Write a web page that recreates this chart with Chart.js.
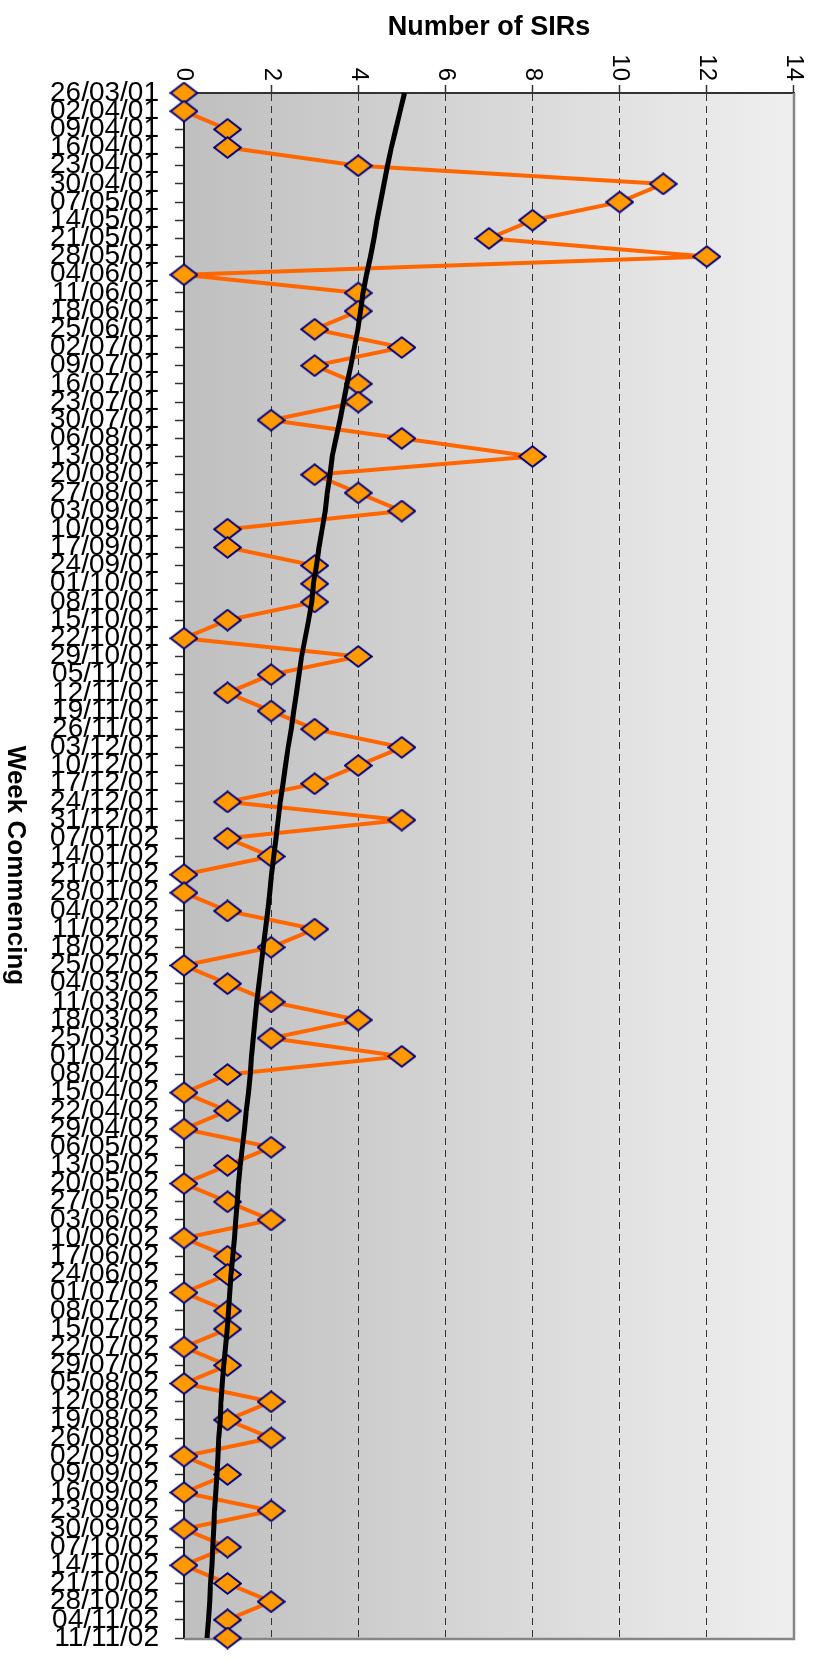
<!DOCTYPE html>
<html>
<head>
<meta charset="utf-8">
<script src="https://cdn.jsdelivr.net/npm/chart.js@4/dist/chart.umd.min.js"></script>
<style>
  html, body { margin: 0; padding: 0; background: #ffffff; overflow: hidden; }
  /* The chart is laid out landscape and turned a quarter clockwise onto the portrait page. */
  #wrap {
    position: absolute; left: 0; top: 0;
    width: 1668px; height: 816px;
    transform-origin: 0 0;
    transform: translateX(816px) rotate(90deg);
  }
</style>
</head>
<body>
<div id="wrap"><canvas id="c" width="1668" height="816"></canvas></div>
<script>
// Week commencing dates
const weeks = [
  '26/03/01','02/04/01','09/04/01','16/04/01','23/04/01','30/04/01','07/05/01','14/05/01','21/05/01','28/05/01',
  '04/06/01','11/06/01','18/06/01','25/06/01','02/07/01','09/07/01','16/07/01','23/07/01','30/07/01','06/08/01',
  '13/08/01','20/08/01','27/08/01','03/09/01','10/09/01','17/09/01','24/09/01','01/10/01','08/10/01','15/10/01',
  '22/10/01','29/10/01','05/11/01','12/11/01','19/11/01','26/11/01','03/12/01','10/12/01','17/12/01','24/12/01',
  '31/12/01','07/01/02','14/01/02','21/01/02','28/01/02','04/02/02','11/02/02','18/02/02','25/02/02','04/03/02',
  '11/03/02','18/03/02','25/03/02','01/04/02','08/04/02','15/04/02','22/04/02','29/04/02','06/05/02','13/05/02',
  '20/05/02','27/05/02','03/06/02','10/06/02','17/06/02','24/06/02','01/07/02','08/07/02','15/07/02','22/07/02',
  '29/07/02','05/08/02','12/08/02','19/08/02','26/08/02','02/09/02','09/09/02','16/09/02','23/09/02','30/09/02',
  '07/10/02','14/10/02','21/10/02','28/10/02','04/11/02','11/11/02'
];

// Number of SIRs raised each week
const sirCounts = [
  0,0,1,1,4,11,10,8,7,12,
  0,4,4,3,5,3,4,4,2,5,
  8,3,4,5,1,1,3,3,3,1,
  0,4,2,1,2,3,5,4,3,1,
  5,1,2,0,0,1,3,2,0,1,
  2,4,2,5,1,0,1,0,2,1,
  0,1,2,0,1,1,0,1,1,0,
  1,0,2,1,2,0,1,0,2,0,
  1,0,1,2,1,1
];

// Trend line values per week
const trendValues = [
  5.06,4.96,4.86,4.76,4.67,4.59,4.51,4.43,4.36,4.28,
  4.19,4.11,4.05,3.99,3.91,3.83,3.74,3.66,3.58,3.49,
  3.40,3.35,3.29,3.24,3.17,3.10,3.04,2.97,2.93,2.86,
  2.78,2.70,2.64,2.58,2.52,2.46,2.39,2.33,2.27,2.21,
  2.16,2.11,2.06,2.01,1.97,1.92,1.87,1.82,1.77,1.72,
  1.67,1.63,1.59,1.55,1.52,1.48,1.43,1.39,1.34,1.29,
  1.25,1.22,1.19,1.16,1.12,1.08,1.05,1.02,0.99,0.95,
  0.91,0.88,0.85,0.83,0.80,0.78,0.76,0.73,0.70,0.68,
  0.66,0.64,0.61,0.59,0.56,0.53
];

// Value axis tick labels
const valueTicks = [0, 2, 4, 6, 8, 10, 12, 14];

const FONT = '"Liberation Sans", Arial, Helvetica, sans-serif';

// Diamond marker: orange fill, navy outline
function makeDiamond(w, h) {
  const cv = document.createElement('canvas');
  cv.width = w; cv.height = h;
  const g = cv.getContext('2d');
  g.beginPath();
  g.moveTo(w / 2, 1.2);
  g.lineTo(w - 1.2, h / 2);
  g.lineTo(w / 2, h - 1.2);
  g.lineTo(1.2, h / 2);
  g.closePath();
  g.fillStyle = '#ff9900';
  g.fill();
  g.lineWidth = 2;
  g.strokeStyle = '#000080';
  g.lineJoin = 'miter';
  g.stroke();
  return cv;
}
const diamond = makeDiamond(23, 29);

// Grey gradient behind the plot, plus the light frame on the far sides
const plotBackdrop = {
  id: 'plotBackdrop',
  beforeDraw(chart) {
    const { ctx, chartArea: { left, right, top, bottom } } = chart;
    const g = ctx.createLinearGradient(0, bottom, 0, top);
    g.addColorStop(0, '#bfbfbf');
    g.addColorStop(1, '#efefef');
    ctx.save();
    ctx.fillStyle = g;
    ctx.fillRect(left, top, right - left, bottom - top);
    ctx.restore();
  },
  beforeDatasetsDraw(chart) {
    const { ctx, chartArea: { left, right, top, bottom } } = chart;
    ctx.save();
    ctx.strokeStyle = '#868686';
    ctx.lineWidth = 2.5;
    ctx.beginPath();
    ctx.moveTo(left, top);
    ctx.lineTo(right + 1, top);
    ctx.lineTo(right + 1, bottom);
    ctx.stroke();
    ctx.restore();
  }
};

new Chart(document.getElementById('c'), {
  type: 'line',
  data: {
    labels: weeks,
    datasets: [
      {
        label: 'Trend',
        data: trendValues,
        borderColor: '#000000',
        borderWidth: 5,
        pointRadius: 0,
        tension: 0,
        fill: false,
        order: 0
      },
      {
        label: 'SIRs',
        data: sirCounts,
        borderColor: '#ff6600',
        borderWidth: 4,
        borderJoinStyle: 'round',
        pointStyle: diamond,
        pointRadius: 12,
        tension: 0,
        fill: false,
        clip: false,
        order: 1
      }
    ]
  },
  options: {
    responsive: false,
    animation: false,
    devicePixelRatio: 1,
    layout: { padding: { top: 22, right: 30, left: 0, bottom: 0 } },
    plugins: { legend: { display: false }, tooltip: { enabled: false } },
    scales: {
      x: {
        type: 'category',
        offset: false,
        afterFit(scale) {
          scale.height = 184;
          scale.paddingLeft = 0;
          scale.paddingRight = 0;
        },
        grid: {
          drawOnChartArea: false,
          drawTicks: true,
          tickLength: 9,
          tickColor: '#333333',
          tickWidth: 1.5
        },
        border: { display: true, color: '#1a1a1a', width: 2 },
        ticks: {
          autoSkip: false,
          minRotation: 90,
          maxRotation: 90,
          padding: 16,
          color: '#000000',
          font: { family: FONT, size: 28 }
        },
        title: {
          display: true,
          text: 'Week Commencing',
          color: '#000000',
          font: { family: FONT, size: 26, weight: 'bold' },
          padding: { top: 4, bottom: 0 }
        }
      },
      y: {
        min: 0,
        max: 14,
        afterFit(scale) {
          scale.width = 93;
          scale.paddingTop = 0;
          scale.paddingBottom = 0;
        },
        afterBuildTicks(scale) { scale.ticks = valueTicks.map(v => ({ value: v })); },
        grid: {
          drawOnChartArea: true,
          color: ctx => (ctx.tick && (ctx.tick.value === 0 || ctx.tick.value === 14)) ? 'rgba(0,0,0,0)' : '#333333',
          lineWidth: 1,
          tickLength: 8,
          tickColor: '#333333',
          tickWidth: 1.5
        },
        border: { display: true, color: '#333333', width: 2, dash: [7, 5] },
        ticks: {
          padding: 4,
          color: '#000000',
          font: { family: FONT, size: 24 }
        },
        title: {
          display: true,
          text: 'Number of SIRs',
          color: '#000000',
          font: { family: FONT, size: 27, weight: 'bold' },
          padding: { top: 11, bottom: 4 }
        }
      }
    }
  },
  plugins: [plotBackdrop]
});
</script>
</body>
</html>
